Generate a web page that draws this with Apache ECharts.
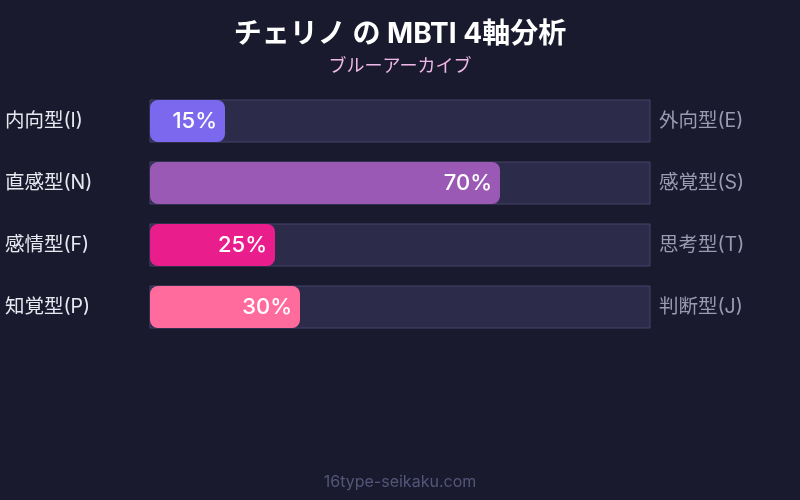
<!DOCTYPE html>
<html><head><meta charset="utf-8">
<script src="https://cdn.jsdelivr.net/npm/echarts@6/dist/echarts.min.js"></script>
<style>html,body{margin:0;padding:0;background:#1a1a2e;}#c{width:800px;height:500px;}</style>
</head><body><div id="c"></div>
<script>
const leftLabels = ['内向型(I)', '直感型(N)', '感情型(F)', '知覚型(P)'];
const rightLabels = ['外向型(E)', '感覚型(S)', '思考型(T)', '判断型(J)'];
const values = [15, 70, 25, 30];
const colors = ['#7b68ee', '#9b59b6', '#e91e8c', '#ff6b9d'];
const FONT = "Inter, 'Noto Sans CJK JP', sans-serif";

const chart = echarts.init(document.getElementById('c'));
chart.setOption({
  backgroundColor: '#1a1a2e',
  textStyle: { fontFamily: FONT },
  title: [
    { text: 'チェリノ の MBTI 4軸分析', left: 'center', top: 16,
      textStyle: { color: '#ffffff', fontSize: 28, fontWeight: 'bold', fontFamily: FONT } },
    { text: 'ブルーアーカイブ', left: 'center', top: 53,
      textStyle: { color: '#f0b8e8', fontSize: 18, fontWeight: 'normal', fontFamily: FONT } },
    { text: '16type-seikaku.com', left: 'center', bottom: 5,
      textStyle: { color: '#55557a', fontSize: 16, fontWeight: 'normal', fontFamily: FONT } }
  ],
  grid: { left: 150, right: 150, top: 90, bottom: 162 },
  xAxis: { type: 'value', min: 0, max: 100, show: false },
  yAxis: [
    { type: 'category', data: leftLabels, inverse: true, position: 'left',
      axisLine: { show: false }, axisTick: { show: false },
      axisLabel: { color: '#e8e8f0', fontSize: 19.5, align: 'left', margin: 145, fontFamily: FONT } },
    { type: 'category', data: rightLabels, inverse: true, position: 'right',
      axisLine: { show: false }, axisTick: { show: false },
      axisLabel: { color: '#9a9ab0', fontSize: 19.5, align: 'left', margin: 9, fontFamily: FONT } }
  ],
  series: [{
    type: 'bar',
    yAxisIndex: 0,
    barWidth: 42,
    showBackground: true,
    backgroundStyle: { color: '#2d2b4a', borderColor: '#45456a', borderWidth: 1 },
    data: values.map((v, i) => ({ value: v, itemStyle: { color: colors[i], borderRadius: 8 } })),
    label: {
      show: true, position: 'insideRight', distance: 8,
      formatter: '{c}%', color: '#ffffff', fontSize: 22, fontWeight: 500, fontFamily: FONT
    }
  }]
});
</script></body></html>
